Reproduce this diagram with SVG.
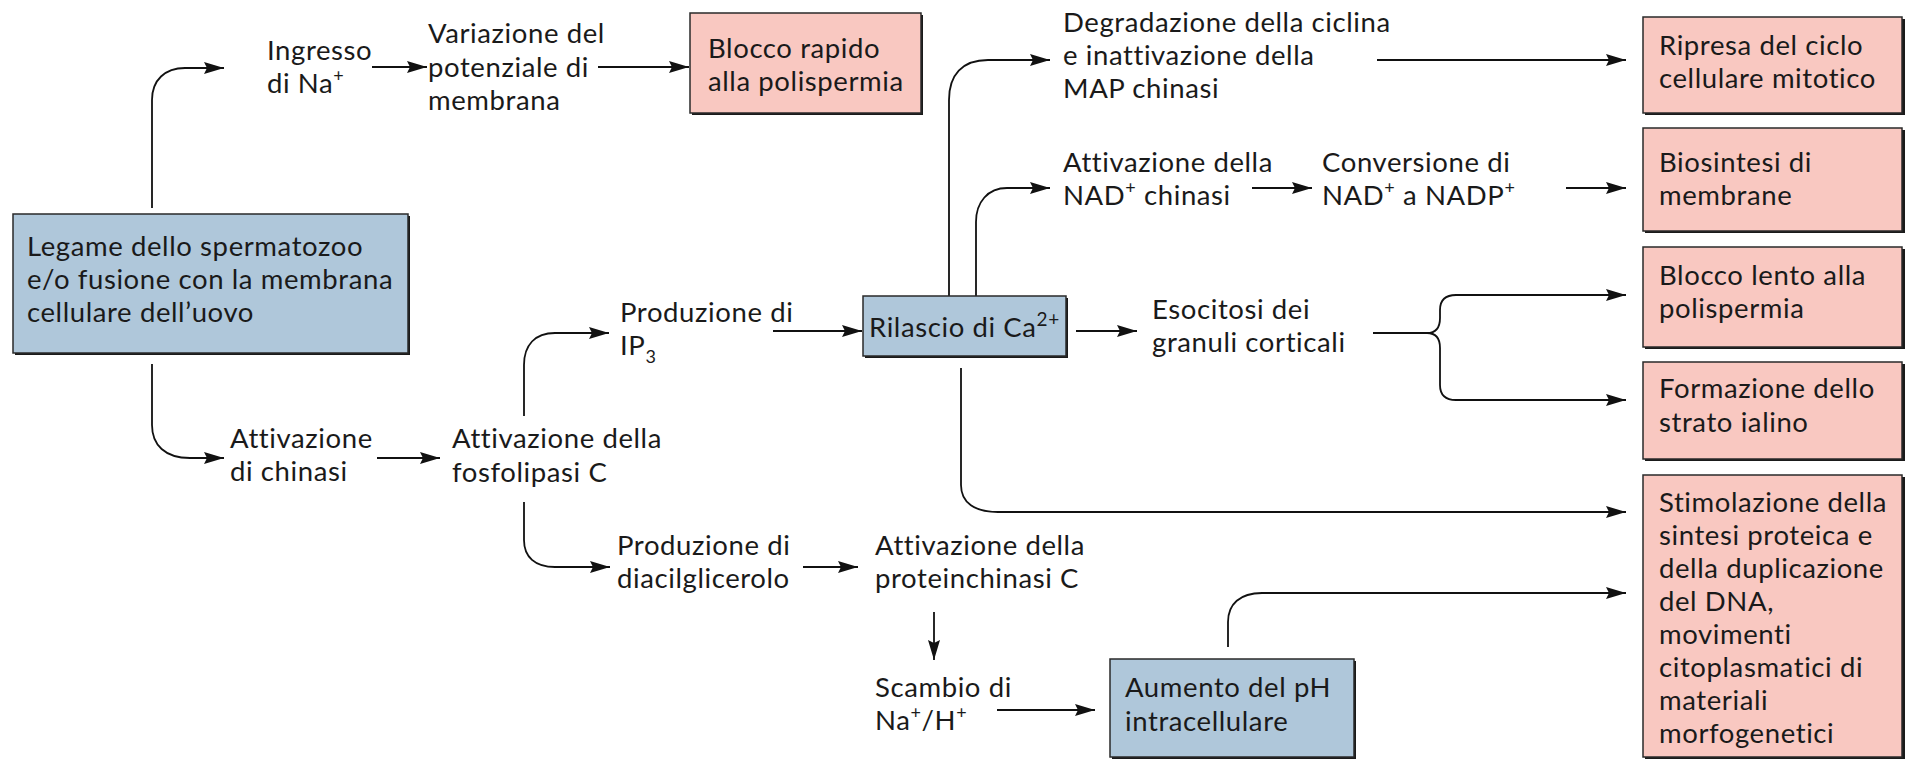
<svg xmlns="http://www.w3.org/2000/svg" width="1905" height="760" viewBox="0 0 1905 760">
<defs>
<style>
text{font-family:Lato,"Open Sans","Liberation Sans",sans-serif;font-size:27.5px;letter-spacing:0.6px;fill:#1a1a1a}
.sup{font-size:18px}
.pink{fill:#F9C8C1;stroke:#2a2a2a;stroke-width:1.5}
.blue{fill:#AFC7DA;stroke:#2a2a2a;stroke-width:1.5}
.sh{fill:#1a1a1a}
.c{fill:none;stroke:#111;stroke-width:1.8}
.a{marker-end:url(#ah)}
</style>
<marker id="ah" markerUnits="userSpaceOnUse" markerWidth="22" markerHeight="14" refX="20" refY="6" orient="auto">
<path d="M0,0 L20,6 L0,12 L3,6 z" fill="#111"/>
</marker>
</defs>
<rect width="1905" height="760" fill="#fff"/>

<g id="connectors">
<path class="c a" d="M152,208 V100 C152,80 165,68 185,68 H224"/>
<path class="c a" d="M152,364 V425 C152,445 165,458 190,458 H224"/>
<path class="c a" d="M372,67 H427"/>
<path class="c a" d="M598,67 H689"/>
<path class="c a" d="M377,458 H440"/>
<path class="c a" d="M524,416 V365 C524,345 535,333 555,333 H609"/>
<path class="c a" d="M524,502 V540 C524,557 535,567 555,567 H610"/>
<path class="c a" d="M773,331 H862"/>
<path class="c a" d="M803,567 H858"/>
<path class="c a" d="M934,612 V660"/>
<path class="c a" d="M997,710 H1095"/>
<path class="c a" d="M1076,331 H1137"/>
<path class="c a" d="M949,296 V100 C949,75 962,60 988,60 H1050"/>
<path class="c a" d="M976,296 V222 C976,202 988,188 1007,188 H1050"/>
<path class="c a" d="M1252,188 H1312"/>
<path class="c a" d="M1566,188 H1626"/>
<path class="c a" d="M1377,60 H1626"/>
<path class="c" d="M1373,333 H1427 C1436,333 1440,327 1440,318"/>
<path class="c a" d="M1440,318 V310 C1440,300 1446,295 1456,295 H1626"/>
<path class="c" d="M1427,333 C1436,333 1440,339 1440,348"/>
<path class="c a" d="M1440,348 V385 C1440,395 1446,400 1456,400 H1626"/>
<path class="c a" d="M961,368 V485 C961,503 975,512 998,512 H1626"/>
<path class="c a" d="M1228,647 V622 C1228,604 1240,593 1262,593 H1626"/>
</g>

<g id="n-legame">
<rect class="sh" x="15" y="216" width="395" height="139"/>
<rect class="blue" x="13" y="214" width="395" height="139"/>
<text><tspan x="27" y="256">Legame dello spermatozoo</tspan><tspan x="27" y="289">e/o fusione con la membrana</tspan><tspan x="27" y="322">cellulare dell’uovo</tspan></text>
</g>

<g id="n-ingresso">
<text><tspan x="267" y="60">Ingresso</tspan><tspan x="267" y="93">di Na</tspan><tspan class="sup" dy="-11">+</tspan></text>
</g>

<g id="n-variazione">
<text><tspan x="428" y="43">Variazione del</tspan><tspan x="428" y="77">potenziale di</tspan><tspan x="428" y="110">membrana</tspan></text>
</g>

<g id="n-blocco-rapido">
<rect class="sh" x="692" y="15" width="231" height="100"/>
<rect class="pink" x="690" y="13" width="231" height="100"/>
<text><tspan x="708" y="58">Blocco rapido</tspan><tspan x="708" y="91">alla polispermia</tspan></text>
</g>

<g id="n-degradazione">
<text><tspan x="1063" y="32">Degradazione della ciclina</tspan><tspan x="1063" y="65">e inattivazione della</tspan><tspan x="1063" y="98">MAP chinasi</tspan></text>
</g>

<g id="n-nad-chinasi">
<text><tspan x="1063" y="172">Attivazione della</tspan><tspan x="1063" y="205">NAD</tspan><tspan class="sup" dy="-11">+</tspan><tspan dy="11"> chinasi</tspan></text>
</g>

<g id="n-conversione">
<text><tspan x="1322" y="172">Conversione di</tspan><tspan x="1322" y="205">NAD</tspan><tspan class="sup" dy="-11">+</tspan><tspan dy="11"> a NADP</tspan><tspan class="sup" dy="-11">+</tspan></text>
</g>

<g id="n-ripresa">
<rect class="sh" x="1645" y="19" width="260" height="96"/>
<rect class="pink" x="1643" y="17" width="259" height="96"/>
<text><tspan x="1659" y="55">Ripresa del ciclo</tspan><tspan x="1659" y="88">cellulare mitotico</tspan></text>
</g>

<g id="n-biosintesi">
<rect class="sh" x="1645" y="130" width="260" height="103"/>
<rect class="pink" x="1643" y="128" width="259" height="103"/>
<text><tspan x="1659" y="172">Biosintesi di</tspan><tspan x="1659" y="205">membrane</tspan></text>
</g>

<g id="n-blocco-lento">
<rect class="sh" x="1645" y="249" width="260" height="100"/>
<rect class="pink" x="1643" y="247" width="259" height="100"/>
<text><tspan x="1659" y="285">Blocco lento alla</tspan><tspan x="1659" y="318">polispermia</tspan></text>
</g>

<g id="n-formazione">
<rect class="sh" x="1645" y="364" width="260" height="97"/>
<rect class="pink" x="1643" y="362" width="259" height="97"/>
<text><tspan x="1659" y="398">Formazione dello</tspan><tspan x="1659" y="432">strato ialino</tspan></text>
</g>

<g id="n-stimolazione">
<rect class="sh" x="1645" y="477" width="260" height="282"/>
<rect class="pink" x="1643" y="475" width="259" height="282"/>
<text><tspan x="1659" y="512">Stimolazione della</tspan><tspan x="1659" y="545">sintesi proteica e</tspan><tspan x="1659" y="578">della duplicazione</tspan><tspan x="1659" y="611">del DNA,</tspan><tspan x="1659" y="644">movimenti</tspan><tspan x="1659" y="677">citoplasmatici di</tspan><tspan x="1659" y="710">materiali</tspan><tspan x="1659" y="743">morfogenetici</tspan></text>
</g>

<g id="n-ip3">
<text><tspan x="620" y="322">Produzione di</tspan><tspan x="620" y="355">IP</tspan><tspan class="sup" dy="8">3</tspan></text>
</g>

<g id="n-rilascio">
<rect class="sh" x="865" y="298" width="203" height="60"/>
<rect class="blue" x="863" y="296" width="203" height="60"/>
<text x="869" y="337">Rilascio di Ca<tspan font-size="19" dy="-11">2+</tspan></text>
</g>

<g id="n-esocitosi">
<text><tspan x="1152" y="319">Esocitosi dei</tspan><tspan x="1152" y="352">granuli corticali</tspan></text>
</g>

<g id="n-chinasi">
<text><tspan x="230" y="448">Attivazione</tspan><tspan x="230" y="481">di chinasi</tspan></text>
</g>

<g id="n-fosfolipasi">
<text><tspan x="452" y="448">Attivazione della</tspan><tspan x="452" y="482">fosfolipasi C</tspan></text>
</g>

<g id="n-diacilglicerolo">
<text><tspan x="617" y="555">Produzione di</tspan><tspan x="617" y="588">diacilglicerolo</tspan></text>
</g>

<g id="n-proteinchinasi">
<text><tspan x="875" y="555">Attivazione della</tspan><tspan x="875" y="588">proteinchinasi C</tspan></text>
</g>

<g id="n-scambio">
<text><tspan x="875" y="697">Scambio di</tspan><tspan x="875" y="730">Na</tspan><tspan class="sup" dy="-11">+</tspan><tspan dy="11">/H</tspan><tspan class="sup" dy="-11">+</tspan></text>
</g>

<g id="n-aumento">
<rect class="sh" x="1112" y="661" width="244" height="98"/>
<rect class="blue" x="1110" y="659" width="244" height="98"/>
<text><tspan x="1125" y="697">Aumento del pH</tspan><tspan x="1125" y="731">intracellulare</tspan></text>
</g>
</svg>
